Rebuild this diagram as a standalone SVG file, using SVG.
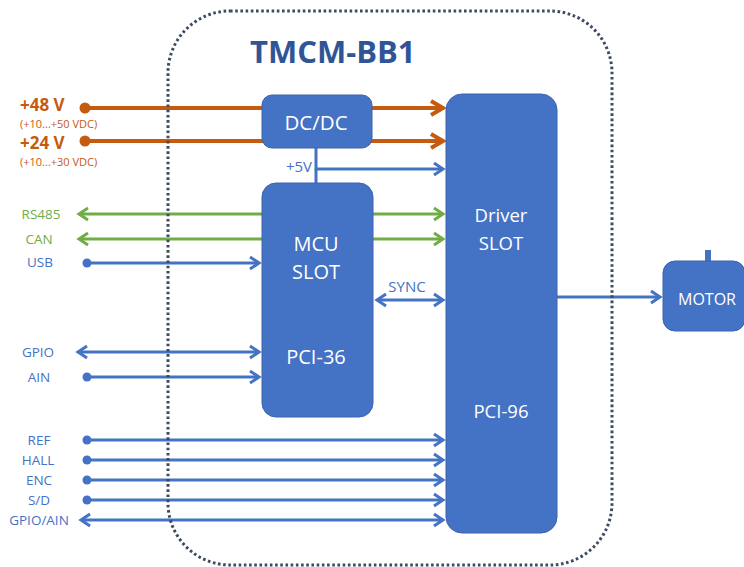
<svg xmlns="http://www.w3.org/2000/svg" width="744" height="567" viewBox="0 0 744 567">
<style>
text{font-family:"Open Sans","Liberation Sans",sans-serif}
.box{fill:#4472C4;stroke:#3A64AE;stroke-width:1}
.wt{fill:#FFFFFF;text-anchor:middle}
.lbl{fill:#4472C4;font-size:13.5px;text-anchor:middle}
.grn{fill:#70AD47;font-size:13.5px;text-anchor:middle}
.org{fill:#C55A11}
.bl{stroke:#4472C4;stroke-width:3;fill:none}
.gl{stroke:#70AD47;stroke-width:3;fill:none}
.ol{stroke:#C55A11;stroke-width:4;fill:none}
.dot{fill:#4472C4}
</style>
<defs>
<marker id="ab" markerUnits="userSpaceOnUse" markerWidth="16" markerHeight="18" refX="12" refY="9" orient="auto-start-reverse" overflow="visible">
<path d="M3,3 L12,9 L3,15" fill="none" stroke="#4472C4" stroke-width="3" stroke-linejoin="miter"/>
</marker>
<marker id="ag" markerUnits="userSpaceOnUse" markerWidth="16" markerHeight="18" refX="12" refY="9" orient="auto-start-reverse" overflow="visible">
<path d="M3,3 L12,9 L3,15" fill="none" stroke="#70AD47" stroke-width="3"/>
</marker>
<marker id="ao" markerUnits="userSpaceOnUse" markerWidth="18" markerHeight="18" refX="14" refY="9" orient="auto-start-reverse" overflow="visible">
<path d="M2,2 L14,9 L2,16" fill="none" stroke="#C55A11" stroke-width="4"/>
</marker>
</defs>
<rect width="744" height="567" fill="#FFFFFF"/>

<g id="connectors">
<line class="ol" x1="85" y1="108" x2="443" y2="108" marker-end="url(#ao)"/>
<line class="ol" x1="85" y1="141" x2="443" y2="141" marker-end="url(#ao)"/>
<circle cx="85" cy="108" r="5.5" fill="#C55A11"/>
<circle cx="85" cy="141" r="5.5" fill="#C55A11"/>
<path class="bl" d="M316,148 V169 H443" marker-end="url(#ab)"/>
<line class="bl" x1="316" y1="169" x2="316" y2="184"/>
<line class="gl" x1="79" y1="214" x2="443" y2="214" marker-start="url(#ag)" marker-end="url(#ag)"/>
<line class="gl" x1="79" y1="239" x2="443" y2="239" marker-start="url(#ag)" marker-end="url(#ag)"/>
<line class="bl" x1="87" y1="263" x2="259" y2="263" marker-end="url(#ab)"/>
<circle class="dot" cx="87" cy="263" r="4.5"/>
<line class="bl" x1="377" y1="300" x2="443" y2="300" marker-start="url(#ab)" marker-end="url(#ab)"/>
<line class="bl" x1="78" y1="352" x2="259" y2="352" marker-start="url(#ab)" marker-end="url(#ab)"/>
<line class="bl" x1="87" y1="377" x2="259" y2="377" marker-end="url(#ab)"/>
<circle class="dot" cx="87" cy="377" r="4.5"/>
<line class="bl" x1="87" y1="440" x2="443" y2="440" marker-end="url(#ab)"/>
<circle class="dot" cx="87" cy="440" r="4.5"/>
<line class="bl" x1="87" y1="460" x2="443" y2="460" marker-end="url(#ab)"/>
<circle class="dot" cx="87" cy="460" r="4.5"/>
<line class="bl" x1="87" y1="480" x2="443" y2="480" marker-end="url(#ab)"/>
<circle class="dot" cx="87" cy="480" r="4.5"/>
<line class="bl" x1="87" y1="500" x2="443" y2="500" marker-end="url(#ab)"/>
<circle class="dot" cx="87" cy="500" r="4.5"/>
<line class="bl" x1="81" y1="520" x2="443" y2="520" marker-start="url(#ab)" marker-end="url(#ab)"/>
<line class="bl" x1="557" y1="297" x2="660" y2="297" marker-end="url(#ab)"/>
</g>

<g id="boundary">
<rect x="168" y="11" width="444" height="554" rx="62" ry="62" fill="none" stroke="#3C4A62" stroke-width="3" stroke-dasharray="2.6 2.6"/>
<text x="250" y="63" font-size="31" font-weight="bold" fill="#2F5597">TMCM-BB1</text>
</g>

<g id="labels">
<text class="org" x="20" y="111" font-size="17" font-weight="bold">+48 V</text>
<text class="org" x="20" y="128" font-size="11">(+10...+50 VDC)</text>
<text class="org" x="20" y="149" font-size="17" font-weight="bold">+24 V</text>
<text class="org" x="20" y="166" font-size="11">(+10...+30 VDC)</text>
<text class="grn" x="41" y="219">RS485</text>
<text class="grn" x="39" y="244">CAN</text>
<text class="lbl" x="40" y="267">USB</text>
<text class="lbl" x="38" y="357">GPIO</text>
<text class="lbl" x="39" y="382">AIN</text>
<text class="lbl" x="39" y="445">REF</text>
<text class="lbl" x="38" y="465">HALL</text>
<text class="lbl" x="39" y="485">ENC</text>
<text class="lbl" x="39" y="505">S/D</text>
<text class="lbl" x="39" y="525">GPIO/AIN</text>
<text class="lbl" x="312" y="172" style="text-anchor:end;font-size:15px">+5V</text>
<text class="lbl" x="407" y="292" style="font-size:15px">SYNC</text>
</g>

<g id="dcdc">
<rect class="box" x="262" y="95" width="110" height="53" rx="10"/>
<text class="wt" x="316" y="130" font-size="20.5">DC/DC</text>
</g>

<g id="mcu">
<rect class="box" x="262" y="183" width="111" height="234" rx="14"/>
<text class="wt" x="316" y="251" font-size="20">MCU</text>
<text class="wt" x="316" y="279" font-size="20">SLOT</text>
<text class="wt" x="316" y="364" font-size="20">PCI-36</text>
</g>

<g id="driver">
<rect class="box" x="446" y="94" width="111" height="439" rx="16"/>
<text class="wt" x="501" y="222" font-size="18.5">Driver</text>
<text class="wt" x="501" y="250" font-size="18.5">SLOT</text>
<text class="wt" x="501" y="418" font-size="18.5">PCI-96</text>
</g>

<g id="motor">
<rect x="705" y="250" width="6" height="13" fill="#4472C4"/>
<rect class="box" x="663" y="261" width="82" height="70" rx="12"/>
<text class="wt" x="707" y="305" font-size="16">MOTOR</text>
</g>
</svg>
